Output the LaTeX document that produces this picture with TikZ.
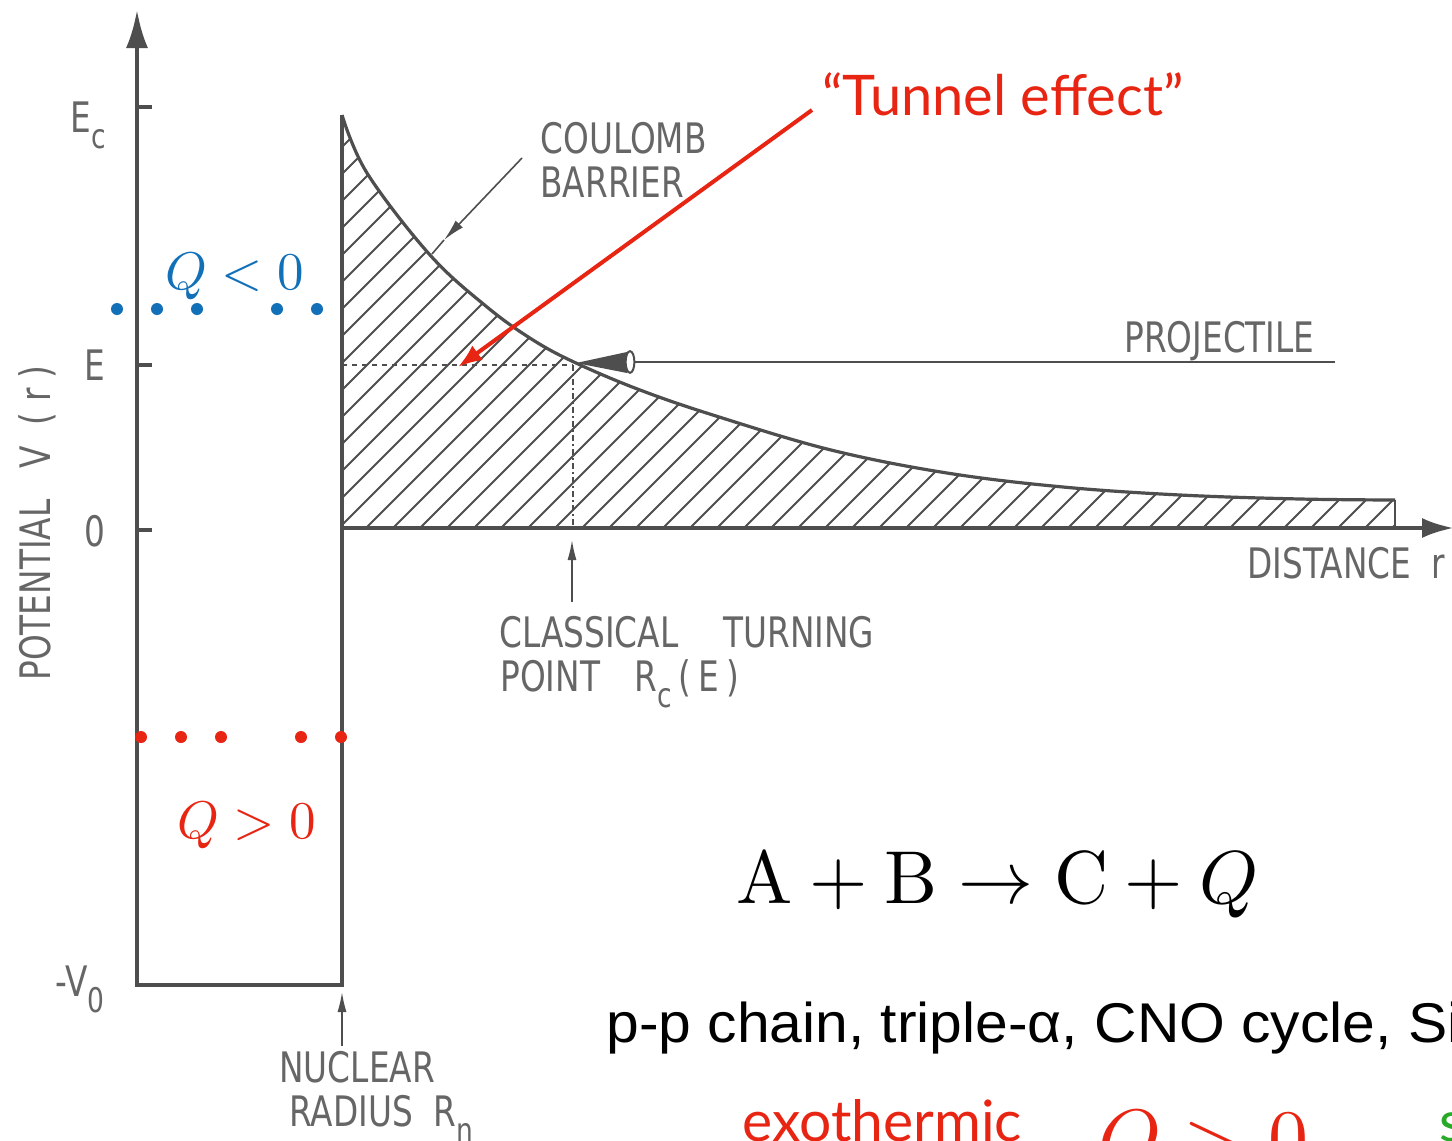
\documentclass[tikz,border=0pt]{standalone}
\usepackage{graphicx}
\usepackage{fontspec}
\usetikzlibrary{arrows.meta}
\newfontfamily\dinfam[FakeStretch=0.78]{DejaVu Sans}
\newfontfamily\gillfam{Lato}
\newfontfamily\helvfam[FakeStretch=1.05]{Liberation Sans}
\definecolor{lineg}{HTML}{4E4E4E}
\definecolor{textg}{HTML}{666666}
\definecolor{myred}{RGB}{232,36,18}
\definecolor{myblue}{RGB}{18,112,184}
\definecolor{mygreen}{RGB}{40,170,40}
\newcommand\dsub[1]{\raisebox{-0.4em}{\fontsize{17}{17}\selectfont #1}}
\newcommand\bigmath[2]{\scalebox{#1}{\fontsize{10}{12}\selectfont$#2$}}
\begin{document}
\begin{tikzpicture}[x=0.5pt,y=-0.5pt,
  din/.style={text=textg,font=\dinfam\fontsize{21}{24}\selectfont,inner sep=0pt,anchor=base west},
  ax/.style={draw=lineg,line width=2.2pt},
  thinl/.style={draw=lineg,line width=0.8pt},
  hatchl/.style={draw=lineg,line width=1pt},
  smallarr/.style={thinl,-{Latex[length=10pt,width=4.5pt]}},
  bdot/.style={fill=myblue},
  rdot/.style={fill=myred},
  mathlab/.style={inner sep=0pt,anchor=base west}
]
\useasboundingbox (0,0) rectangle (1452,1141);
\clip (0,0) rectangle (1452,1141);
\fill[white] (0,0) rectangle (1452,1141);

% named points
\coordinate (ytop) at (137,10);
\coordinate (ybot) at (137,985);
\coordinate (wallb) at (342,985);
\coordinate (wallt) at (342,115);
\coordinate (xorig) at (342,528);
\coordinate (xend) at (1454,528);
\coordinate (tp) at (576,363);
\coordinate (tpaxis) at (573,528);
\coordinate (ewall) at (342,365);
\coordinate (tpe) at (573,365);

% hatching
\begin{scope}
\clip (342,528) -- plot[smooth,tension=0.6] coordinates {(342,115) (367,173) (430,255) (487,307) (533,340) (576,363) (640,390) (716,416) (831,450) (947,473) (1063,487) (1180,495) (1300,499) (1395,500)} -- (1395,528) -- cycle;
\foreach \i in {0,...,62} \draw[hatchl] ({-120+\i*27},528) -- ++(480,-480);
\end{scope}

% barrier curve
\draw[lineg,line width=1.6pt] plot[smooth,tension=0.6] coordinates {(342,115) (367,173) (430,255) (487,307) (533,340) (576,363) (640,390) (716,416) (831,450) (947,473) (1063,487) (1180,495) (1300,499) (1395,500)};
\draw[hatchl] (1395,500) -- (1395,528);

% axes and well
\draw[ax,{Latex[length=19pt,width=11pt]}-] (ytop) -- (ybot) -- (wallb) -- (wallt);
\draw[ax,-{Latex[length=16pt,width=10pt]}] (xorig) -- (xend);
\draw[ax] (137,107) -- (152,107);
\draw[ax] (137,365) -- (152,365);
\draw[ax] (137,530) -- (152,530);

% energy level lines
\draw[lineg,line width=1.1pt,dash pattern=on 2.5pt off 2.5pt] (ewall) -- (tpe);
\draw[lineg,line width=0.7pt,dash pattern=on 3pt off 1.5pt on 1pt off 1.5pt] (tpe) -- (tpaxis);

% projectile
\coordinate (pcone) at (630,362);
\coordinate (pend) at (1335,362);
\draw[thinl] (pcone) -- (pend);
\fill[lineg] (tp) -- (627,352) -- (627,373) -- cycle;
\draw[lineg,line width=1pt,fill=white] (pcone) ellipse (2.2pt and 5.4pt);

% coulomb leader
\coordinate (cb1) at (522,158);
\coordinate (cbm) at (444,240);
\coordinate (cb2) at (432,254);
\draw[thinl,-{Latex[length=11pt,width=5pt]}] (cb1) -- (cbm);
\draw[thinl] (cbm) -- (cb2);

% small vertical arrows
\coordinate (ctp1) at (572,602);
\coordinate (ctp2) at (572,540);
\draw[smallarr] (ctp1) -- (ctp2);
\coordinate (nr1) at (342,1046);
\coordinate (nr2) at (342,992);
\draw[smallarr] (nr1) -- (nr2);

% diagram labels
\node[din] (lc1) at (540,153) {COULOMB};
\node[din] (lc2) at (540,197) {BARRIER};
\node[din] (lpr) at (1124,352) {PROJECTILE};
\node[din] (ldi) at (1247,578) {DISTANCE\ \ r};
\node[din] (lcl) at (499,647) {CLASSICAL};
\node[din] (ltu) at (723,647) {TURNING};
\node[din] (lpo) at (500,691) {POINT};
\node[din] (lrc) at (634,691) {R\dsub{c}\,(\,E\,)};
\node[din] (lnu) at (279,1082) {NUCLEAR};
\node[din] (lra) at (289,1126) {RADIUS\ \ R\dsub{n}};
\node[din] (lec) at (70,132) {E\dsub{c}};
\node[din] (le) at (84,380) {E};
\node[din] (l0) at (84,546) {0};
\node[din] (lv0) at (55,996) {-V\dsub{0}};
\node[din,rotate=90,anchor=base] (lpot) at (50,523) {POTENTIAL\ \ \ V\ \ (\ r\ )};

% tunnel effect
\node[inner sep=0pt,anchor=base west,text=myred,font=\gillfam\fontsize{28}{30}\selectfont] (tun) at (822,115) {“Tunnel effect”};
\coordinate (ta) at (812,110);
\coordinate (tt) at (458,367);
\draw[myred,line width=2pt,-{Latex[length=12pt,width=9pt]}] (ta) -- (tt);

% Q labels and dots
\node[mathlab,text=myblue] (qneg) at (165,289) {\bigmath{2.65}{Q<0}};
\foreach \x in {117,157,197,277,317} \fill[bdot] (\x,309) circle (3pt);
\foreach \x in {141,181,221,301,341} \fill[rdot] (\x,737) circle (3pt);
\node[mathlab,text=myred] (qpos) at (177,838) {\bigmath{2.65}{Q>0}};

% reaction
\node[mathlab] (reac) at (736,903) {\bigmath{3.75}{\mathrm{A}+\mathrm{B}\rightarrow\mathrm{C}+Q}};
\node[inner sep=0pt,anchor=base west,font=\helvfam\fontsize{28}{30}\selectfont] (chain) at (606,1042) {p-p chain, triple-α, CNO cycle, Si};
\node[inner sep=0pt,anchor=base west,text=myred,font=\gillfam\fontsize{28.5}{30}\selectfont] (exo) at (742,1141) {exothermic};
\node[mathlab,text=myred] (qbig) at (1098,1165) {\bigmath{4}{Q>0}};
\node[inner sep=0pt,anchor=base west,text=mygreen,font=\gillfam\fontsize{28}{30}\selectfont] (gs) at (1439,1141) {s};
\end{tikzpicture}
\end{document}
